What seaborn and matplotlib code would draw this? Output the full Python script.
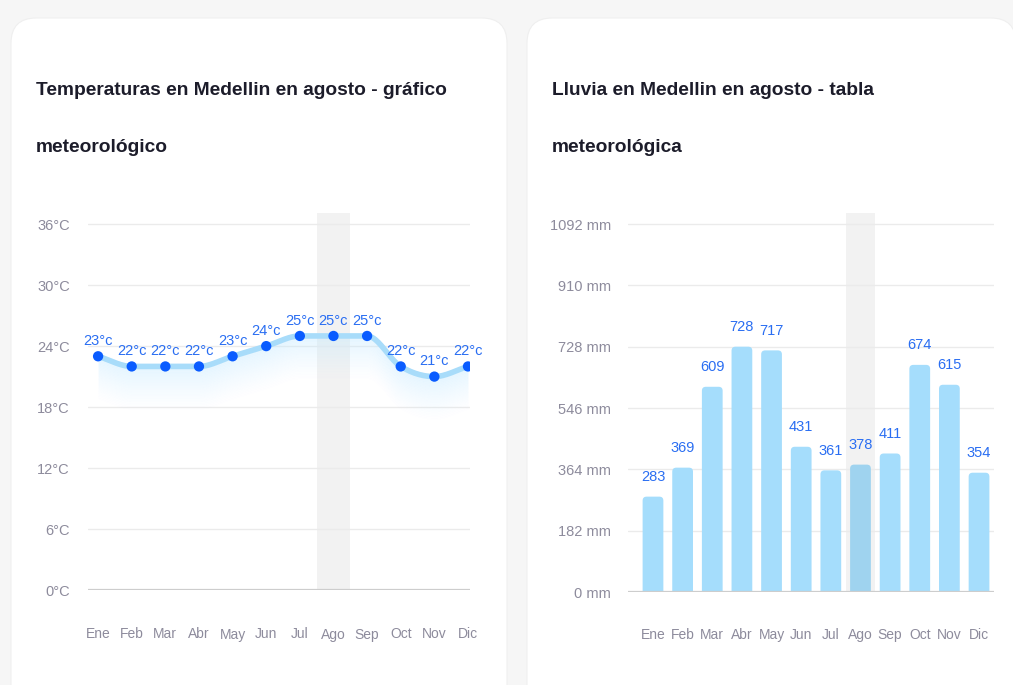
import numpy as np
import matplotlib
matplotlib.use("Agg")
from matplotlib import pyplot as plt
from matplotlib import font_manager
from matplotlib.patches import FancyBboxPatch, PathPatch
from matplotlib.path import Path
import seaborn as sns

# chart data
months = ["Ene", "Feb", "Mar", "Abr", "May", "Jun", "Jul", "Ago", "Sep", "Oct", "Nov", "Dic"]
temps = [23, 22, 22, 22, 23, 24, 25, 25, 25, 22, 21, 22]
rain = [283, 369, 609, 728, 717, 431, 361, 378, 411, 674, 615, 354]
temp_ticks = [0, 6, 12, 18, 24, 30, 36]
rain_ticks = [0, 182, 364, 546, 728, 910, 1092]
highlight = "Ago"
title_temp = ["Temperaturas en Medellin en agosto - gráfico", "meteorológico"]
title_rain = ["Lluvia en Medellin en agosto - tabla", "meteorológica"]

sns.set_theme(style="white")
installed = {f.name for f in font_manager.fontManager.ttflist}
narrow = "Liberation Sans Narrow" if "Liberation Sans Narrow" in installed else "Liberation Sans"
plt.rcParams["font.family"] = [narrow, "DejaVu Sans"]

W, H = 1013, 685
GREY = "#8d8b9c"
BLUE_TXT = "#2a6ef2"
DOT = "#0a5cff"
LINE = "#a8dcfa"
BAR = "#a5ddfc"
BAR_HI = "#9fd3ef"
BAND = "#f2f2f2"
TICK_FS = 10.5
MONTH_FS = 10


def px_rect(x0, y0, x1, y1):
    # pixel box (top-left origin) -> figure fraction rect
    return [x0 / W, 1 - y1 / H, (x1 - x0) / W, (y1 - y0) / H]


def smooth(x, y, n=24):
    # monotone cubic hermite through the data points, for drawing only
    x = np.asarray(x, float)
    y = np.asarray(y, float)
    d = np.diff(y) / np.diff(x)
    m = np.zeros_like(y)
    m[1:-1] = np.where(d[:-1] * d[1:] > 0, (d[:-1] + d[1:]) / 2, 0)
    m[0], m[-1] = d[0], d[-1]
    xs, ys = [], []
    for i in range(len(x) - 1):
        t = np.linspace(0, 1, n, endpoint=False)
        h = x[i + 1] - x[i]
        h00 = 2 * t**3 - 3 * t**2 + 1
        h10 = t**3 - 2 * t**2 + t
        h01 = -2 * t**3 + 3 * t**2
        h11 = t**3 - t**2
        xs.append(x[i] + t * h)
        ys.append(h00 * y[i] + h10 * h * m[i] + h01 * y[i + 1] + h11 * h * m[i + 1])
    xs.append([x[-1]])
    ys.append([y[-1]])
    return np.concatenate(xs), np.concatenate(ys)


def top_rounded(x, w, h, rx, ry):
    verts = [(x, 0), (x, h - ry), (x, h), (x + rx, h), (x + w - rx, h),
             (x + w, h), (x + w, h - ry), (x + w, 0), (x, 0)]
    codes = [Path.MOVETO, Path.LINETO, Path.CURVE3, Path.CURVE3, Path.LINETO,
             Path.CURVE3, Path.CURVE3, Path.LINETO, Path.CLOSEPOLY]
    return Path(verts, codes)


fig = plt.figure(figsize=(W / 100, H / 100), dpi=100)
fig.patch.set_facecolor("#f6f6f6")

# white cards
for x0, x1 in [(11, 507), (527, 1016)]:
    card = FancyBboxPatch((x0 / W, -0.1), (x1 - x0) / W, (H - 18) / H + 0.1,
                          boxstyle="round,pad=0,rounding_size=0.025",
                          mutation_aspect=W / H, transform=fig.transFigure,
                          fc="white", ec="#efefef", lw=0.8, zorder=-5)
    fig.patches.append(card)

# titles
for x, lines in [(36, title_temp), (552, title_rain)]:
    for k, line in enumerate(lines):
        fig.text(x / W, 1 - (95 + 57 * k) / H, line, fontsize=13.8, fontweight="bold",
                 color="#1c1c2a", va="baseline", ha="left")

idx = np.arange(len(months))
hi = months.index(highlight)

# ---- temperature chart ----
ax1 = fig.add_axes(px_rect(88, 213, 470, 590))
ax1.set_zorder(2)
ax1.set_facecolor("none")
ax1.axvspan(hi - 0.5, hi + 0.5, color=BAND, zorder=0, lw=0)

sx, sy = smooth(idx, temps)
n = 30
for k in range(n):
    ax1.fill_between(sx, sy + 0.3 - k * 4.5 / n, sy + 0.3 - (k + 1) * 4.5 / n,
                     color="#c4eaff", alpha=0.5 * (1 - k / n) ** 1.3, lw=0, zorder=1)
ax1.plot(sx, sy, color=LINE, lw=4.0, solid_capstyle="round", zorder=3)
sns.scatterplot(x=idx, y=temps, ax=ax1, s=55, color=DOT, edgecolor="none", zorder=5, legend=False)
for i, t in zip(idx, temps):
    ax1.annotate(f"{t}°c", (i, t), xytext=(0, 6), textcoords="offset points",
                 ha="center", va="bottom", fontsize=TICK_FS, color=BLUE_TXT, zorder=6)

ax1.set_xlim(-0.3, 11.06)
ax1.set_ylim(0, 37.1)
ax1.set_yticks(temp_ticks)
ax1.set_yticklabels([f"{t}°C" for t in temp_ticks])
ax1.set_xticks(idx)
ax1.set_xticklabels(months)
ax1.grid(axis="y", color="#ebebeb", lw=1)
ax1.grid(axis="x", visible=False)
ax1.axhline(0, color="#cdcdcd", lw=1.6, zorder=2)
ax1.tick_params(axis="y", length=0, pad=13, labelsize=TICK_FS, labelcolor=GREY)
ax1.tick_params(axis="x", length=0, pad=27, labelsize=MONTH_FS, labelcolor=GREY)
ax1.set_xlabel("")
ax1.set_ylabel("")
sns.despine(ax=ax1, left=True, bottom=True)

# ---- rain chart ----
ax2 = fig.add_axes(px_rect(628, 213, 994, 592))
ax2.set_zorder(2)
ax2.set_facecolor("none")
ymax2 = 1124.7
palette = {m: (BAR_HI if m == highlight else BAR) for m in months}
sns.barplot(x=months, y=rain, hue=months, palette=palette, width=0.7,
            saturation=1, ax=ax2, legend=False, zorder=3)
ax2.set_xlim(-0.843, 11.505)
ax2.set_ylim(0, ymax2)

# rounded bar tops (replace seaborn's rectangles by the same bars with round top corners)
bars = [b for c in ax2.containers for b in c]
x_per_px = (11.505 + 0.843) / (994 - 628)
y_per_px = ymax2 / (592 - 213)
for b in bars:
    x, w, h = b.get_x(), b.get_width(), b.get_height()
    fc = b.get_facecolor()
    b.set_visible(False)
    ax2.add_patch(PathPatch(top_rounded(x, w, h, 4 * x_per_px, 4 * y_per_px),
                            fc=fc, ec="none", zorder=3))

ax2.axvspan(hi - 0.5, hi + 0.5, color=BAND, zorder=0, lw=0)
for i, v in zip(idx, rain):
    ax2.annotate(f"{v}", (i, v), xytext=(0, 9), textcoords="offset points",
                 ha="center", va="bottom", fontsize=TICK_FS, color=BLUE_TXT, zorder=6)

ax2.set_yticks(rain_ticks)
ax2.set_yticklabels([f"{t} mm" for t in rain_ticks])
ax2.set_xticks(idx)
ax2.set_xticklabels(months)
ax2.grid(axis="y", color="#ebebeb", lw=1)
ax2.grid(axis="x", visible=False)
ax2.set_axisbelow(True)
ax2.axhline(0, color="#cdcdcd", lw=1.6, zorder=4)
ax2.tick_params(axis="y", length=0, pad=12, labelsize=TICK_FS, labelcolor=GREY)
ax2.tick_params(axis="x", length=0, pad=26, labelsize=MONTH_FS, labelcolor=GREY)
ax2.set_xlabel("")
ax2.set_ylabel("")
sns.despine(ax=ax2, left=True, bottom=True)

fig.savefig("out.png", dpi=100, facecolor=fig.get_facecolor())
